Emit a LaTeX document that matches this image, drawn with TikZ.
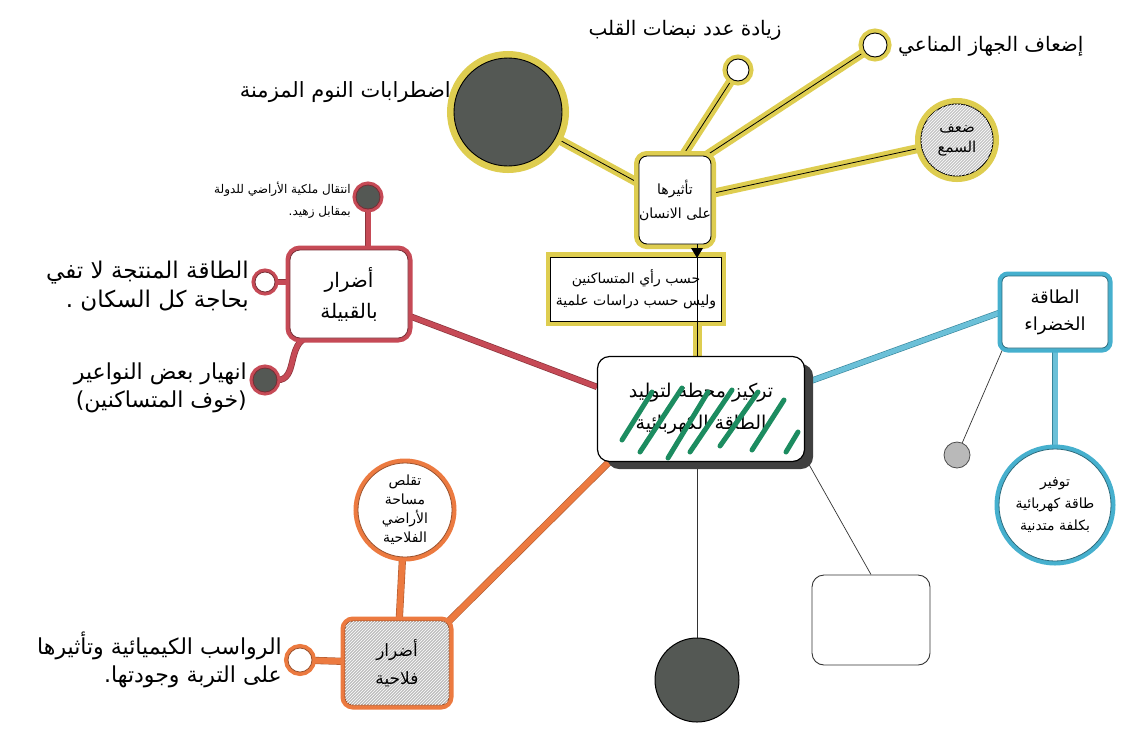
\documentclass[tikz,border=0pt]{standalone}
\usepackage{fontspec}
\newfontfamily\arabicfont[Script=Arabic]{DejaVu Sans}
\TeXXeTstate=1
\usetikzlibrary{patterns,backgrounds}
\definecolor{yel}{RGB}{222,205,80}
\definecolor{redc}{RGB}{198,74,86}
\definecolor{orc}{RGB}{236,122,64}
\definecolor{bluc}{RGB}{70,176,206}
\definecolor{dk}{RGB}{84,88,84}
\definecolor{grn}{RGB}{28,140,96}
\newcommand{\AR}[1]{\beginR #1\endR}
\begin{document}
\begin{tikzpicture}[x=1pt,y=-1pt,
  lab/.style={font=\arabicfont\fontsize{19}{25}\selectfont, align=right, inner sep=1pt},
  labs/.style={font=\arabicfont\fontsize{12}{22}\selectfont, align=right, inner sep=1pt},
  inl/.style={font=\arabicfont\fontsize{14}{20}\selectfont, align=center, inner sep=0pt},
  yband/.style={draw=yel, line width=9pt},
  kline/.style={draw=black, line width=0.8pt},
  thinline/.style={draw=black!80, line width=0.7pt},
  redband/.style={draw=redc!70!black, double=redc, double distance=5pt, line width=0.7pt},
  orband/.style={draw=orc!75!black, double=orc, double distance=6pt, line width=0.6pt},
  bluband/.style={draw=bluc!75!black, double=bluc!80, double distance=5pt, line width=0.6pt},
  ycirc/.style={circle, draw=black, line width=0.9pt, preaction={draw=yel, line width=#1}},
  ycirc/.default=12pt,
  ybox/.style={draw=black, line width=0.9pt, fill=white, preaction={draw=yel, line width=#1}},
  rshape/.style={draw=redc!60!black, line width=0.8pt, preaction={draw=redc, line width=#1}},
  oshape/.style={draw=orc!65!black, line width=0.8pt, preaction={draw=orc, line width=#1}},
  bshape/.style={draw=bluc!60!black, line width=0.8pt, fill=white, preaction={draw=bluc, line width=#1}},
  hatch/.style={postaction={pattern=north east lines, pattern color=white}}
]
\useasboundingbox (0,0) rectangle (1137,729);

% ---- yellow group (human effects)
\node[ycirc=14pt, fill=dk, minimum size=108] (bigc) at (508,112) {};
\node[ycirc=9pt, fill=white, minimum size=22] (ring1) at (738,70) {};
\node[ycirc=9pt, fill=white, minimum size=24] (ring2) at (875,45) {};
\node[ycirc=12pt, fill=gray!45, hatch, minimum size=72, inl, font=\arabicfont\fontsize{15}{20}\selectfont] (hatc) at (957,140) {\AR{ضعف}\\\AR{السمع}};
\node[ybox=10pt, rounded corners=8, minimum width=72, minimum height=88, inner sep=3pt, inl, font=\arabicfont\fontsize{14}{24}\selectfont] (hum) at (675,200) {\AR{تأثيرها}\\\AR{على الانسان}};
\node[ybox=10pt, minimum width=165, minimum height=64, inl, inner sep=5pt, font=\arabicfont\fontsize{14}{22}\selectfont] (opin) at (636,289) {\AR{حسب رأي المتساكنين}\\\AR{وليس حسب دراسات علمية}};

\node[lab, anchor=east, font=\arabicfont\fontsize{21}{25}\selectfont] (tsleep) at (452,92) {\AR{اضطرابات النوم المزمنة}};
\node[lab, font=\arabicfont\fontsize{20}{25}\selectfont] (theart) at (685,30) {\AR{زيادة عدد نبضات القلب}};
\node[lab, anchor=west, font=\arabicfont\fontsize{20}{25}\selectfont] (timm) at (897,46) {\AR{إضعاف الجهاز المناعي}};

% ---- centre
\fill[black!75, rounded corners=12] (607,364) rectangle (813,469);
\node[draw=black, line width=1.2pt, fill=white, rounded corners=12, minimum width=207, minimum height=105,
      font=\arabicfont\fontsize{19}{32}\selectfont, align=center] (ctr) at (701,409) {\AR{تركيز محطة لتوليد}\\\AR{الطاقة الكهربائية}};
\begin{scope}[grn, line width=5pt, line cap=round]
  \draw (622,440) -- (652,392);
  \draw (640,452) -- (682,388);
  \draw (668,458) -- (708,392);
  \draw (690,452) -- (732,390);
  \draw (720,446) -- (758,392);
  \draw (752,450) -- (784,400);
  \draw (786,452) -- (798,432);
\end{scope}

% ---- red group (tribe)
\node[rshape=9pt, fill=white, rounded corners=10, minimum width=118, minimum height=88,
      font=\arabicfont\fontsize{20}{31}\selectfont, align=center] (tribe) at (349,294) {\AR{أضرار}\\\AR{بالقبيلة}};
\node[rshape=7pt, circle, fill=dk, minimum size=24] (rc1) at (368,197) {};
\node[rshape=7pt, circle, fill=white, minimum size=20] (rr2) at (265,282) {};
\node[rshape=7pt, circle, fill=dk, minimum size=24] (rc3) at (265,380) {};
\node[labs, anchor=east] (tland) at (352,200) {\AR{انتقال ملكية الأراضي للدولة}\\\AR{بمقابل زهيد.}};
\node[lab, anchor=east, font=\arabicfont\fontsize{23}{29}\selectfont] (tenergy) at (250,286) {\AR{الطاقة المنتجة لا تفي}\\\AR{بحاجة كل السكان .}};
\node[lab, anchor=east, font=\arabicfont\fontsize{22}{28}\selectfont] (tnoria) at (248,388) {\AR{انهيار بعض النواعير}\\\AR{(خوف المتساكنين)}};

% ---- orange group (agriculture)
\node[oshape=9pt, circle, fill=white, minimum size=94, inl, font=\arabicfont\fontsize{14}{19}\selectfont] (orcirc) at (405,510) {\AR{تقلص}\\\AR{مساحة}\\\AR{الأراضي}\\\AR{الفلاحية}};
\node[oshape=9pt, rounded corners=8, fill=gray!50, hatch, minimum width=104, minimum height=84, inl, font=\arabicfont\fontsize{17}{28}\selectfont] (orbox) at (397,663) {\AR{أضرار}\\\AR{فلاحية}};
\node[oshape=8pt, circle, fill=white, minimum size=24] (orring) at (300,660) {};
\node[lab, anchor=east, font=\arabicfont\fontsize{22}{28}\selectfont] (tchem) at (283,660) {\AR{الرواسب الكيميائية وتأثيرها}\\\AR{على التربة وجودتها.}};

% ---- bottom, uncoloured
\node[circle, draw=black, line width=1pt, fill=dk, minimum size=84] (botc) at (697,680) {};
\node[draw=black!80, line width=0.9pt, fill=white, rounded corners=12, minimum width=118, minimum height=90] (botr) at (871,620) {};

% ---- blue group (green energy)
\node[bshape=9pt, rounded corners=6, minimum width=106, minimum height=72, inl, font=\arabicfont\fontsize{18}{27}\selectfont] (green) at (1055,312) {\AR{الطاقة}\\\AR{الخضراء}};
\node[circle, draw=black!70, line width=0.8pt, fill=gray!55, minimum size=26] (grayc) at (957,455) {};
\node[bshape=9pt, circle, minimum size=112, inl, font=\arabicfont\fontsize{14}{22}\selectfont] (bluec) at (1055,505) {\AR{توفير}\\\AR{طاقة كهربائية}\\\AR{بكلفة متدنية}};

% thin line through the opinion box
\coordinate (vx) at (697,0);
\draw[kline] (hum.south -| vx) -- (ctr.north -| vx);
\fill (691,248) -- (703,248) -- (697,258) -- cycle;

% ---- connectors (background)
\begin{scope}[on background layer]
  \fill[white] (0,0) rectangle (1137,729);
  % yellow
  \draw[yband] (hum.155) -- (bigc);
  \draw[kline] (hum.155) -- (bigc);
  \draw[yband] (hum.80) -- (ring1);
  \draw[kline] (hum.80) -- (ring1);
  \draw[yband] (hum.55) -- (ring2);
  \draw[kline] (hum.55) -- (ring2);
  \draw[yband] (hum.10) -- (hatc);
  \draw[kline] (hum.10) -- (hatc);
  \draw[yband] (opin.south -| vx) -- (ctr.north -| vx);
  % red
  \draw[redband] (tribe.-20) -- (ctr.168);
  \draw[redband] (rc1) -- (rc1 |- tribe.north);
  \draw[redband] (rr2) -- (tribe.west |- rr2);
  \draw[redband] (tribe.225) to[out=210,in=0] (rc3);
  % orange
  \draw[orband] (ctr.south west) ++(12,0) coordinate (oa) (oa) -- (orbox.north east);
  \draw[orband] (orcirc) -- (orbox);
  \draw[orband] (orring) -- (orbox);
  % blue
  \draw[bluband] (ctr.14) -- (green.west);
  \draw[bluband] (green) -- (bluec);
  \draw[thinline] (green.-145) -- (grayc);
  % black
  \draw[thinline] (ctr.south -| botc) -- (botc);
  \draw[thinline] (ctr.-25) -- (botr.north);
\end{scope}
\end{tikzpicture}
\end{document}
